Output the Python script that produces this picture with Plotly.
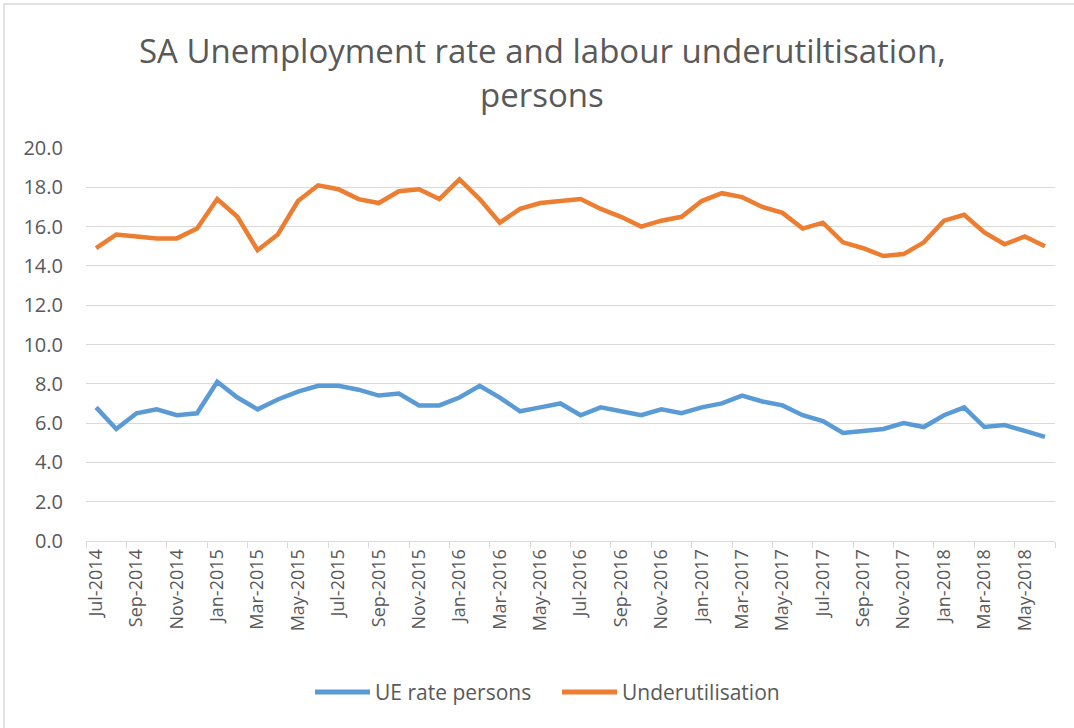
import plotly.graph_objects as go

months = []
names = ["Jan", "Feb", "Mar", "Apr", "May", "Jun", "Jul", "Aug", "Sep", "Oct", "Nov", "Dec"]
for y in range(2014, 2019):
    for m in names:
        months.append(f"{m}-{y}")
months = months[months.index("Jul-2014"):months.index("Jun-2018") + 1]

ue_rate = [6.8, 5.7, 6.5, 6.7, 6.4, 6.5, 8.1, 7.3, 6.7, 7.2, 7.6, 7.9,
           7.9, 7.7, 7.4, 7.5, 6.9, 6.9, 7.3, 7.9, 7.3, 6.6, 6.8, 7.0,
           6.4, 6.8, 6.6, 6.4, 6.7, 6.5, 6.8, 7.0, 7.4, 7.1, 6.9, 6.4,
           6.1, 5.5, 5.6, 5.7, 6.0, 5.8, 6.4, 6.8, 5.8, 5.9, 5.6, 5.3]

underutil = [14.9, 15.6, 15.5, 15.4, 15.4, 15.9, 17.4, 16.5, 14.8, 15.6, 17.3, 18.1,
             17.9, 17.4, 17.2, 17.8, 17.9, 17.4, 18.4, 17.4, 16.2, 16.9, 17.2, 17.3,
             17.4, 16.9, 16.5, 16.0, 16.3, 16.5, 17.3, 17.7, 17.5, 17.0, 16.7, 15.9,
             16.2, 15.2, 14.9, 14.5, 14.6, 15.2, 16.3, 16.6, 15.7, 15.1, 15.5, 15.0]

series_names = ["UE rate persons", "Underutilisation"]
series_colors = ["#5B9BD5", "#ED7D31"]
title_lines = ["SA Unemployment rate and labour underutiltisation,", "persons"]

FONT = "Open Sans"
GREY = "#595959"

fig = go.Figure()
for vals, name, col in zip([ue_rate, underutil], series_names, series_colors):
    fig.add_trace(go.Scatter(x=months, y=vals, mode="lines", name=name,
                             line=dict(color=col, width=4.5), showlegend=False))

W, H = 1074, 728
L, R, T, B = 86, 19, 148, 187
pw, ph = W - L - R, H - T - B

def px(x):
    return (x - L) / pw

def py(y):
    return (H - B - y) / ph

fig.update_layout(
    width=W, height=H,
    margin=dict(l=L, r=R, t=T, b=B, autoexpand=False),
    paper_bgcolor="white", plot_bgcolor="white",
    font=dict(family=FONT, color=GREY),
    xaxis=dict(type="category", range=[-0.5, len(months) - 0.5],
               tickangle=-90, dtick=2, tickson="boundaries",
               ticks="outside", ticklen=6, tickcolor="#D9D9D9",
               showline=True, linecolor="#D9D9D9", linewidth=1,
               showgrid=False, automargin=False,
               tickfont=dict(size=18, color=GREY)),
    yaxis=dict(range=[0, 20], dtick=2, tickformat=".1f",
               showgrid=True, gridcolor="#D9D9D9", gridwidth=1,
               zeroline=False, showline=False, ticks="", automargin=False,
               ticklabelstandoff=22,
               tickfont=dict(size=20, color=GREY)),
    showlegend=False,
)

for i, line in enumerate(title_lines):
    fig.add_annotation(text=line, xref="paper", yref="paper",
                       x=px(542), y=py(50 + 45 * i), xanchor="center", yanchor="middle",
                       showarrow=False, font=dict(size=33, color=GREY, family=FONT))

# legend built from the series names and colours
legend_starts = [315, 562]
for x0, name, col in zip(legend_starts, series_names, series_colors):
    fig.add_shape(type="line", xref="paper", yref="paper",
                  x0=px(x0), x1=px(x0 + 55), y0=py(692), y1=py(692),
                  line=dict(color=col, width=5))
    fig.add_annotation(text=name, xref="paper", yref="paper",
                       x=px(x0 + 58), y=py(692), xanchor="left", yanchor="middle",
                       showarrow=False, font=dict(size=21, color=GREY, family=FONT))

fig.add_shape(type="rect", xref="paper", yref="paper",
              x0=px(4), x1=px(1090), y0=py(745), y1=py(4),
              line=dict(color="#D9D9D9", width=1.5), layer="below")

fig.write_html("out.html", config={"displayModeBar": False},
               post_script="document.body.style.margin='0';document.body.style.padding='0';")
